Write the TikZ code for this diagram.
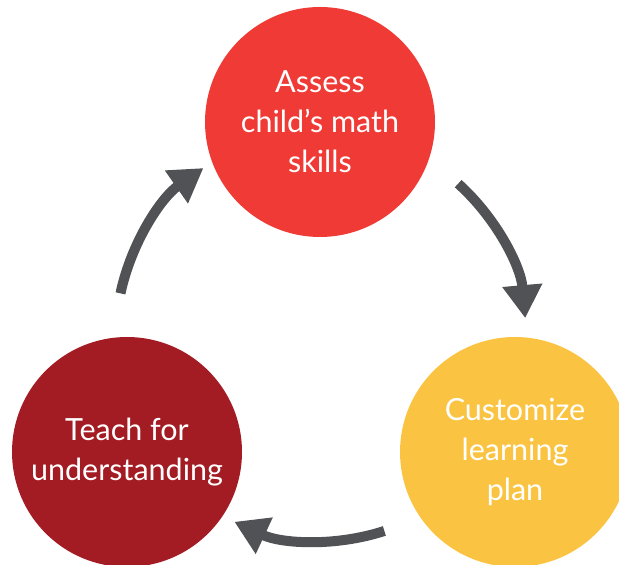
\documentclass[tikz,border=0pt]{standalone}
\usepackage{fontspec}
\setmainfont{Lato}
\usetikzlibrary{arrows.meta}
\definecolor{topred}{RGB}{239,58,54}
\definecolor{darkred}{RGB}{163,27,35}
\definecolor{sunyellow}{RGB}{250,196,66}
\definecolor{arrowgray}{RGB}{80,82,85}
\tikzset{
  stage/.style={circle, minimum size=230pt, inner sep=0pt, text=white, align=center,
    font=\fontsize{30.5}{40}\selectfont},
  cyclearrow/.style={draw=arrowgray, line width=10pt, -{Triangle[width=38pt,length=33pt]}}
}
\begin{document}
\begin{tikzpicture}[x=1pt,y=1pt]
\useasboundingbox (0,0) rectangle (619,565);
\clip (0,0) rectangle (619,565);
\node[stage, fill=topred] (assess) at (320,443) {Assess\\child’s math\\skills};
\node[stage, fill=darkred] (teach) at (127,113) {Teach for\\understanding};
\node[stage, fill=sunyellow] (custom) at (515,113) {Customize\\learning\\plan};
\coordinate (hub) at (321,229);
\coordinate (s1) at ([shift={(48:205pt)}]hub);
\coordinate (s2) at ([shift={(-72:205pt)}]hub);
\coordinate (s3) at ([shift={(168:205pt)}]hub);
\draw[cyclearrow] (s1) arc[start angle=48, end angle=5, radius=205pt];
\draw[cyclearrow] (s2) arc[start angle=-72, end angle=-115, radius=205pt];
\draw[cyclearrow] (s3) arc[start angle=168, end angle=125, radius=205pt];
\end{tikzpicture}
\end{document}
